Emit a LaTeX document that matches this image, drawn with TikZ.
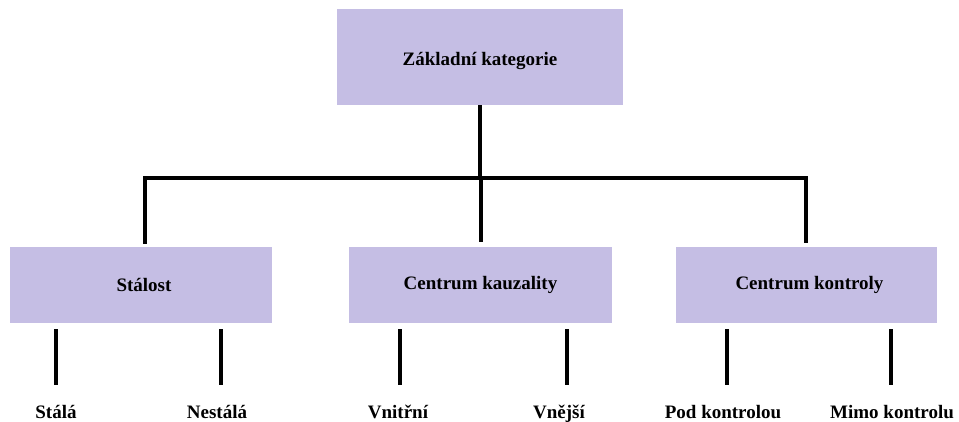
\documentclass[tikz,border=0pt]{standalone}
\usepackage{fontspec}
\setmainfont{Liberation Serif}
\definecolor{boxfill}{RGB}{197,190,228}
\begin{document}
\begin{tikzpicture}[x=1pt,y=-1pt,
  catbox/.style={fill=boxfill,draw=none,inner sep=0pt,font=\bfseries\fontsize{19}{22}\selectfont},
  leaf/.style={font=\bfseries\fontsize{19}{22}\selectfont,inner sep=0pt,anchor=base},
  link/.style={line width=3.6pt,black}]
\useasboundingbox[fill=white] (0,0) rectangle (959,421);
% categories
\node[catbox,minimum width=286pt,minimum height=96pt] (root) at (480,57) {\raisebox{-4pt}[\height][\depth]{Základní kategorie}};
\node[catbox,minimum width=262pt,minimum height=76pt] (st) at (141,285) {\hspace*{6pt}Stálost};
\node[catbox,minimum width=263pt,minimum height=76pt] (ka) at (480.5,285) {Centrum kauzality};
\node[catbox,minimum width=261pt,minimum height=76pt] (ko) at (806.5,285) {\hspace*{6pt}Centrum kontroly};
% connectors from the root
\coordinate (hub) at (480,178);
\coordinate (hl) at (145,178);
\coordinate (hr) at (806,178);
\draw[link] (root.south) -- (hub);
\draw[link] (hl) -- (hr);
\draw[link,line cap=rect] (hl) -- (145,242);
\draw[link] (481,178) -- (481,242);
\draw[link,line cap=rect] (hr) -- (806,241);
% leaves
\node[leaf] (l1) at (56,418) {Stálá};
\node[leaf] (l2) at (217,418) {Nestálá};
\node[leaf] (l3) at (398,418) {Vnitřní};
\node[leaf] (l4) at (559,418) {Vnější};
\node[leaf] (l5) at (723,418) {Pod kontrolou};
\node[leaf] (l6) at (892,418) {Mimo kontrolu};
\foreach \x/\n in {56/l1,221/l2,400/l3,567/l4,727/l5,891/l6}
  \draw[link] (\x,329) -- (\x,385);
\end{tikzpicture}
\end{document}
